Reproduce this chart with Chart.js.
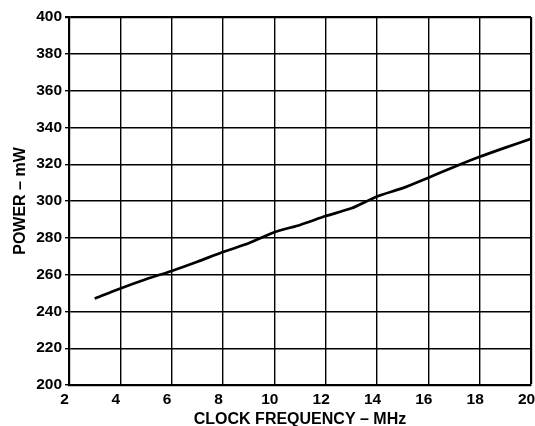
<!DOCTYPE html>
<html>
<head>
<meta charset="utf-8">
<script src="https://cdn.jsdelivr.net/npm/chart.js@4/dist/chart.umd.min.js"></script>
<style>
  html, body { margin: 0; padding: 0; background: #fff; }
  #wrap { width: 535px; height: 426px; }
</style>
</head>
<body>
<div id="wrap"><canvas id="c" width="535" height="426"></canvas></div>
<script>
// Supply power versus clock frequency
const clockMHz = [3, 4, 5, 6, 7, 8, 9, 10, 11, 12, 13, 14, 15, 16, 17, 18, 19, 20];
const powerMW  = [247, 252.5, 257.5, 262, 267, 272.3, 277, 283, 287, 291.8, 296, 302.5, 307, 312.7, 318.5, 324, 329, 333.8];

const xTicks = [2, 4, 6, 8, 10, 12, 14, 16, 18, 20];
const yTicks = [200, 220, 240, 260, 280, 300, 320, 340, 360, 380, 400];

const FONT = '"Liberation Sans", Arial, sans-serif';

new Chart(document.getElementById('c'), {
  type: 'line',
  data: {
    datasets: [{
      data: clockMHz.map((x, i) => ({ x, y: powerMW[i] })),
      borderColor: '#000',
      borderWidth: 2.7,
      pointRadius: 0,
      tension: 0.2,
      fill: false
    }]
  },
  options: {
    responsive: false,
    animation: false,
    layout: { padding: { left: 0, right: 4, top: 17, bottom: 0 } },
    plugins: { legend: { display: false }, tooltip: { enabled: false } },
    scales: {
      x: {
        type: 'linear',
        min: 2, max: 20,
        afterBuildTicks: s => { s.ticks = xTicks.map(v => ({ value: v })); },
        afterFit: s => { s.height = 41; s.paddingLeft = 0; s.paddingRight = 0; },
        ticks: {
          color: '#000',
          font: { family: FONT, size: 15.5, weight: 'bold' },
          padding: 5,
          labelOffset: -4.5,
          maxRotation: 0,
          autoSkip: false
        },
        grid: {
          color: '#000',
          lineWidth: c => (c.index === xTicks.length - 1 ? 2.2 : 1.4),
          drawTicks: false
        },
        border: { color: '#000', width: 2.2 },
        title: {
          display: true,
          text: 'CLOCK FREQUENCY – MHz',
          color: '#000',
          font: { family: FONT, size: 16, weight: 'bold', lineHeight: 0.8 },
          padding: { top: 0, bottom: 0 }
        }
      },
      y: {
        type: 'linear',
        min: 200, max: 400,
        afterBuildTicks: s => { s.ticks = yTicks.map(v => ({ value: v })); },
        afterFit: s => { s.width = 69; s.paddingTop = 0; s.paddingBottom = 0; },
        ticks: {
          color: '#000',
          font: { family: FONT, size: 15.5, weight: 'bold' },
          padding: 3,
          autoSkip: false
        },
        grid: {
          color: '#000',
          lineWidth: c => (c.index === yTicks.length - 1 ? 2.2 : 1.4),
          tickLength: 4
        },
        border: { color: '#000', width: 2.2 },
        title: {
          display: true,
          text: 'POWER – mW',
          color: '#000',
          font: { family: FONT, size: 16, weight: 'bold', lineHeight: 1.2 },
          padding: { top: 11, bottom: 0 }
        }
      }
    }
  }
});
</script>
</body>
</html>
